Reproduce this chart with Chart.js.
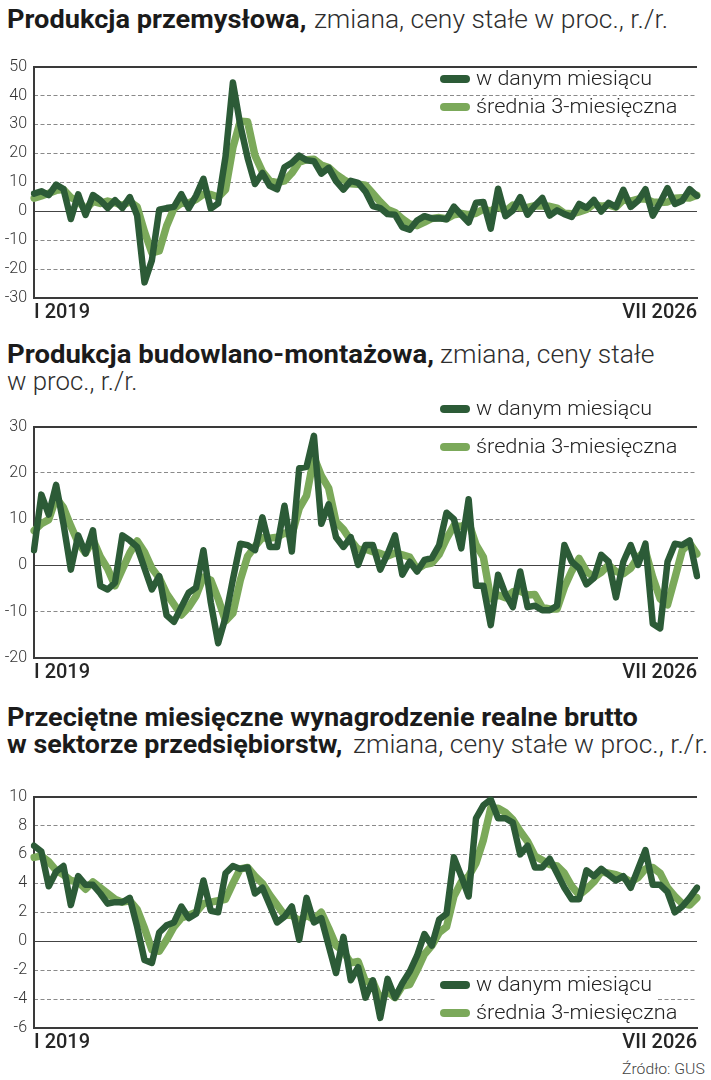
<!DOCTYPE html>
<html><head><meta charset="utf-8">
<script src="https://cdn.jsdelivr.net/npm/chart.js@4.4.1/dist/chart.umd.min.js"></script>
<style>
html,body{margin:0;padding:0;background:#fff;}
body{width:711px;height:1080px;position:relative;overflow:hidden;font-family:Roboto,'Open Sans',sans-serif;}
.tx{position:absolute;white-space:nowrap;line-height:25px;font-size:25px;transform-origin:0 0;display:inline-block;}
.b{font-weight:700;color:#1b1b1b;}
.r{font-weight:300;color:#2e2e2e;}
.lg{position:absolute;white-space:nowrap;font-size:20px;line-height:20px;font-weight:300;color:#222;transform-origin:0 0;display:inline-block;left:476px;}
.sw{position:absolute;width:30px;height:8px;border-radius:4px;left:440px;}
.cv{position:absolute;left:0;}
.src{position:absolute;white-space:nowrap;font-size:15px;line-height:15px;font-weight:300;color:#444;transform-origin:0 0;display:inline-block;}
.bg{position:absolute;background:#fff;}
</style></head><body>

<div class="tx b fit" data-w="299" style="left:7px;top:7px">Produkcja przemysłowa,</div>
<div class="tx r fit" data-w="354" style="left:314px;top:7px">zmiana, ceny stałe w proc., r./r.</div>

<div class="tx b fit" data-w="427" style="left:7px;top:342px">Produkcja budowlano-montażowa,</div>
<div class="tx r fit" data-w="214" style="left:440px;top:342px">zmiana, ceny stałe</div>
<div class="tx r fit" data-w="131" style="left:7px;top:369px">w proc., r./r.</div>

<div class="tx b fit" data-w="631" style="left:7px;top:705px">Przeciętne miesięczne wynagrodzenie realne brutto</div>
<div class="tx b fit" data-w="335" style="left:7px;top:732px">w sektorze przedsiębiorstw,</div>
<div class="tx r fit" data-w="355" style="left:353px;top:732px">zmiana, ceny stałe w proc., r./r.</div>

<canvas id="c1" class="cv" width="711" height="280" style="top:50px"></canvas>
<canvas id="c2" class="cv" width="711" height="280" style="top:410px"></canvas>
<canvas id="c3" class="cv" width="711" height="280" style="top:780px"></canvas>

<!-- legends -->
<div class="sw" style="top:75px;background:#2c5b37"></div>
<div class="lg fit" data-w="176" style="top:68px">w danym miesiącu</div>
<div class="sw" style="top:103px;background:#7ba95a"></div>
<div class="lg fit" data-w="201" style="top:96px">średnia 3-miesięczna</div>

<div class="sw" style="top:405px;background:#2c5b37"></div>
<div class="lg fit" data-w="176" style="top:398px">w danym miesiącu</div>
<div class="sw" style="top:443px;background:#7ba95a"></div>
<div class="lg fit" data-w="201" style="top:436px">średnia 3-miesięczna</div>

<div class="bg" style="left:436px;top:973px;width:220px;height:28px"></div>
<div class="bg" style="left:436px;top:1001px;width:245px;height:25px"></div>
<div class="sw" style="top:981px;background:#2c5b37"></div>
<div class="lg fit" data-w="176" style="top:974px">w danym miesiącu</div>
<div class="sw" style="top:1009px;background:#7ba95a"></div>
<div class="lg fit" data-w="201" style="top:1002px">średnia 3-miesięczna</div>

<div class="src fit" data-w="83" style="left:622px;top:1062px">Źródło: GUS</div>

<script>
// ---- categories ----
const MONTHS = ['I','II','III','IV','V','VI','VII','VIII','IX','X','XI','XII'];
const FIRST_YEAR = 2019, LAST_YEAR = 2026, LAST_MONTH = 7;
const categories = [];
for (let y = FIRST_YEAR; y <= LAST_YEAR; y++) {
  for (let m = 0; m < 12; m++) {
    if (y === LAST_YEAR && m >= LAST_MONTH) break;
    categories.push(MONTHS[m] + ' ' + y);
  }
}

// ---- Produkcja przemysłowa ----
const ind_month = [
  6.1, 6.9, 5.6, 9.2, 7.7, -2.7, 5.8, -1.3, 5.6, 3.8, 1.1, 3.8,
  1.1, 4.9, -1.5, -24.6, -17.0, 0.5, 1.1, 1.5, 5.9, 1.0, 5.4, 11.2,
  0.9, 2.7, 18.9, 44.5, 29.8, 18.4, 9.4, 13.2, 8.8, 7.6, 15.2, 16.7,
  19.2, 17.6, 17.3, 13.0, 15.0, 10.4, 7.5, 10.5, 9.8, 6.8, 1.8, 1.1,
  -1.0, -1.2, -5.5, -6.4, -3.2, -1.7, -2.5, -2.4, -2.8, 1.6, -1.2, -3.9,
  2.9, 3.2, -6.0, 7.8, -1.7, 0.3, 4.9, -1.2, 2.0, 4.6, -1.5, 0.3,
  -1.0, -2.0, 2.5, 1.2, 3.9, -0.1, 2.9, 1.5, 7.4, 1.5, 3.6, 7.6,
  -1.5, 3.0, 8.0, 2.5, 3.6, 7.6, 5.3
];
const ind_avg3 = [
  4.5, 5.3, 6.2, 7.2, 7.5, 4.7, 3.6, 0.6, 3.4, 2.7, 3.5, 2.9,
  2.0, 3.3, 1.5, -7.1, -14.4, -13.7, -5.1, 1.0, 2.8, 2.8, 4.1, 5.9,
  5.8, 4.9, 7.5, 22.0, 31.1, 30.9, 19.2, 13.7, 10.5, 9.9, 10.5, 13.2,
  17.0, 17.8, 18.0, 16.0, 15.1, 12.8, 11.0, 9.5, 9.3, 9.0, 6.1, 3.2,
  0.6, -0.4, -2.6, -4.4, -5.0, -3.8, -2.5, -2.2, -2.6, -1.2, -0.8, -1.2,
  -0.7, 0.7, 0.0, 1.7, 0.0, 2.1, 1.2, 1.3, 1.9, 1.8, 1.7, 1.1,
  -0.7, -0.9, -0.2, 0.6, 2.5, 1.7, 2.2, 1.4, 3.9, 3.5, 4.2, 4.2,
  3.2, 3.0, 3.2, 4.5, 4.7, 4.6, 5.5
];

// ---- Produkcja budowlano-montażowa ----
const bud_month = [
  3.3, 15.3, 11.0, 17.4, 9.0, -0.9, 6.5, 2.6, 7.6, -4.4, -5.2, -3.7,
  6.5, 5.4, 4.0, -0.6, -5.2, -2.3, -10.8, -12.2, -9.0, -5.9, -4.8, 3.3,
  -8.0, -16.8, -11.2, -3.0, 4.7, 4.4, 3.3, 10.4, 4.0, 4.0, 12.9, 3.0,
  21.0, 21.3, 28.0, 9.0, 13.2, 6.1, 4.0, 6.1, 0.1, 4.4, 4.4, -0.9,
  2.5, 6.5, -2.0, 0.8, -1.3, 1.2, 1.6, 4.4, 11.4, 10.0, 3.7, 14.3,
  -4.4, -4.4, -12.9, -2.0, -6.2, -9.0, -1.3, -9.0, -8.7, -9.7, -9.7, -8.7,
  4.4, 0.8, -0.6, -4.1, -2.7, 2.3, 0.8, -6.9, 0.8, 4.4, 0.1, 4.7,
  -12.6, -13.6, 0.8, 4.7, 4.4, 5.4, -2.3
];
const bud_avg3 = [
  7.5, 9.0, 9.9, 14.6, 12.5, 8.5, 4.9, 2.7, 5.6, 1.9, -0.7, -4.4,
  -0.8, 2.7, 5.3, 2.9, -0.6, -2.7, -6.1, -8.4, -10.7, -9.0, -6.6, -2.5,
  -3.2, -7.2, -12.0, -10.3, -3.2, 2.0, 4.1, 6.0, 5.9, 6.1, 7.0, 6.6,
  12.3, 15.1, 23.4, 19.4, 16.7, 9.4, 7.8, 5.4, 3.4, 3.5, 3.0, 2.6,
  2.0, 2.7, 2.3, 1.8, -0.8, 0.2, 0.5, 2.4, 5.8, 8.6, 8.4, 9.3,
  4.5, 1.8, -7.2, -6.4, -7.0, -5.7, -5.5, -6.4, -6.3, -9.1, -9.4, -9.4,
  -4.7, -1.2, 1.5, -1.3, -2.5, -1.5, 0.1, -1.3, -1.8, -0.6, 1.8, 3.1,
  -2.6, -7.2, -8.5, -2.7, 3.3, 4.8, 2.5
];

// ---- Przeciętne miesięczne wynagrodzenie realne brutto ----
const wag_month = [
  6.6, 6.2, 3.8, 4.8, 5.2, 2.5, 4.5, 3.9, 3.9, 3.3, 2.6, 2.7,
  2.7, 3.0, 1.0, -1.3, -1.5, 0.6, 1.1, 1.3, 2.4, 1.6, 1.9, 4.2,
  2.1, 2.0, 4.7, 5.2, 5.0, 5.1, 3.3, 3.7, 2.5, 1.3, 1.7, 2.4,
  0.1, 3.0, 1.3, 1.6, -0.3, -2.2, 0.3, -2.7, -1.8, -3.9, -2.7, -5.3,
  -2.6, -3.9, -2.9, -2.1, -1.0, 0.5, -0.3, 1.5, 1.9, 5.8, 4.5, 3.1,
  8.5, 9.4, 9.8, 8.5, 8.5, 8.2, 6.0, 6.6, 5.1, 5.1, 5.7, 4.7,
  3.7, 2.9, 2.9, 4.9, 4.5, 5.0, 4.6, 4.2, 4.5, 3.7, 5.0, 6.3,
  3.9, 3.9, 3.4, 2.0, 2.4, 3.0, 3.7
];
const wag_avg3 = [
  5.8, 5.9, 5.5, 4.9, 4.6, 4.2, 4.1, 3.6, 4.1, 3.7, 3.3, 2.9,
  2.7, 2.8, 2.2, 0.9, -0.6, -0.7, 0.1, 1.0, 1.6, 1.8, 2.0, 2.6,
  2.7, 2.8, 2.9, 4.0, 5.0, 5.1, 4.5, 4.0, 3.2, 2.5, 1.8, 1.8,
  1.4, 1.8, 1.5, 2.0, 0.9, -0.3, -0.7, -1.5, -1.4, -2.8, -2.8, -4.0,
  -3.5, -3.9, -3.1, -3.0, -2.0, -0.9, -0.3, 0.6, 1.0, 3.1, 4.1, 4.5,
  5.4, 7.0, 9.2, 9.2, 8.9, 8.4, 7.6, 6.9, 5.9, 5.6, 5.3, 5.2,
  4.7, 3.8, 3.2, 3.6, 4.1, 4.8, 4.7, 4.6, 4.4, 4.1, 4.4, 5.0,
  5.1, 4.7, 3.7, 3.1, 2.6, 2.5, 3.0
];

// ---- y-axis ranges / tick steps ----
const ind_range = [-30, 50, 10];
const bud_range = [-20, 30, 10];
const wag_range = [-6, 10, 2];

const DARK = '#2c5b37';
const LIGHT = '#7ba95a';
const AXIS = '#3a3a3a';

function makePanel(id, dark, light, range) {
  const [yMin, yMax, step] = range;
  const last = categories.length - 1;
  return new Chart(document.getElementById(id), {
    type: 'line',
    data: {
      labels: categories,
      datasets: [
        { label: 'w danym miesiącu', data: dark, borderColor: DARK, borderWidth: 6.5,
          pointRadius: 0, tension: 0, borderJoinStyle: 'round', borderCapStyle: 'round', fill: false },
        { label: 'średnia 3-miesięczna', data: light, borderColor: LIGHT, borderWidth: 7.5,
          pointRadius: 0, tension: 0, borderJoinStyle: 'round', borderCapStyle: 'round', fill: false }
      ]
    },
    options: {
      responsive: false, animation: false, devicePixelRatio: 1,
      layout: { padding: { top: 12, right: 14, left: 0, bottom: 0 } },
      plugins: { legend: { display: false }, tooltip: { enabled: false } },
      scales: {
        x: {
          ticks: {
            autoSkip: false, maxRotation: 0, minRotation: 0, align: 'inner', padding: 3,
            font: { family: 'Roboto', size: 20, weight: '500' }, color: '#262626',
            callback: (v, i) => (i === 0 || i === last) ? categories[i] : ''
          },
          grid: { display: false, drawTicks: false },
          border: { display: true, color: AXIS, width: 2 },
          afterFit: s => { s.height = 32; }
        },
        y: {
          min: yMin, max: yMax,
          ticks: { stepSize: step, padding: 7, font: { family: 'Roboto', size: 16, weight: '300' }, color: '#333' },
          grid: {
            drawTicks: false,
            color: c => c.tick.value === 0 ? '#444' : (c.tick.value === yMax ? AXIS : 'rgba(0,0,0,0)'),
            lineWidth: c => c.tick.value === yMax ? 2 : 1
          },
          border: { display: true, color: AXIS, width: 2 },
          afterFit: s => { s.width = 34; }
        },
        yd: {
          position: 'right', min: yMin, max: yMax,
          ticks: { display: false, stepSize: step },
          grid: {
            drawTicks: false,
            color: c => (c.tick.value === 0 || c.tick.value === yMax || c.tick.value === yMin) ? 'rgba(0,0,0,0)' : '#8a8a8a',
            lineWidth: 1
          },
          border: { display: false, dash: [4, 2.5] },
          afterFit: s => { s.width = 0; }
        }
      }
    }
  });
}

const charts = [
  makePanel('c1', ind_month, ind_avg3, ind_range),
  makePanel('c2', bud_month, bud_avg3, bud_range),
  makePanel('c3', wag_month, wag_avg3, wag_range)
];

function fitTexts() {
  document.querySelectorAll('.fit').forEach(el => {
    el.style.transform = 'none';
    const w = el.offsetWidth;
    const t = parseFloat(el.dataset.w);
    if (w > 0) el.style.transform = 'scaleX(' + (t / w) + ')';
  });
}
fitTexts();
if (document.fonts && document.fonts.ready) {
  document.fonts.ready.then(() => { fitTexts(); charts.forEach(c => c.update('none')); });
}
</script>
</body></html>
